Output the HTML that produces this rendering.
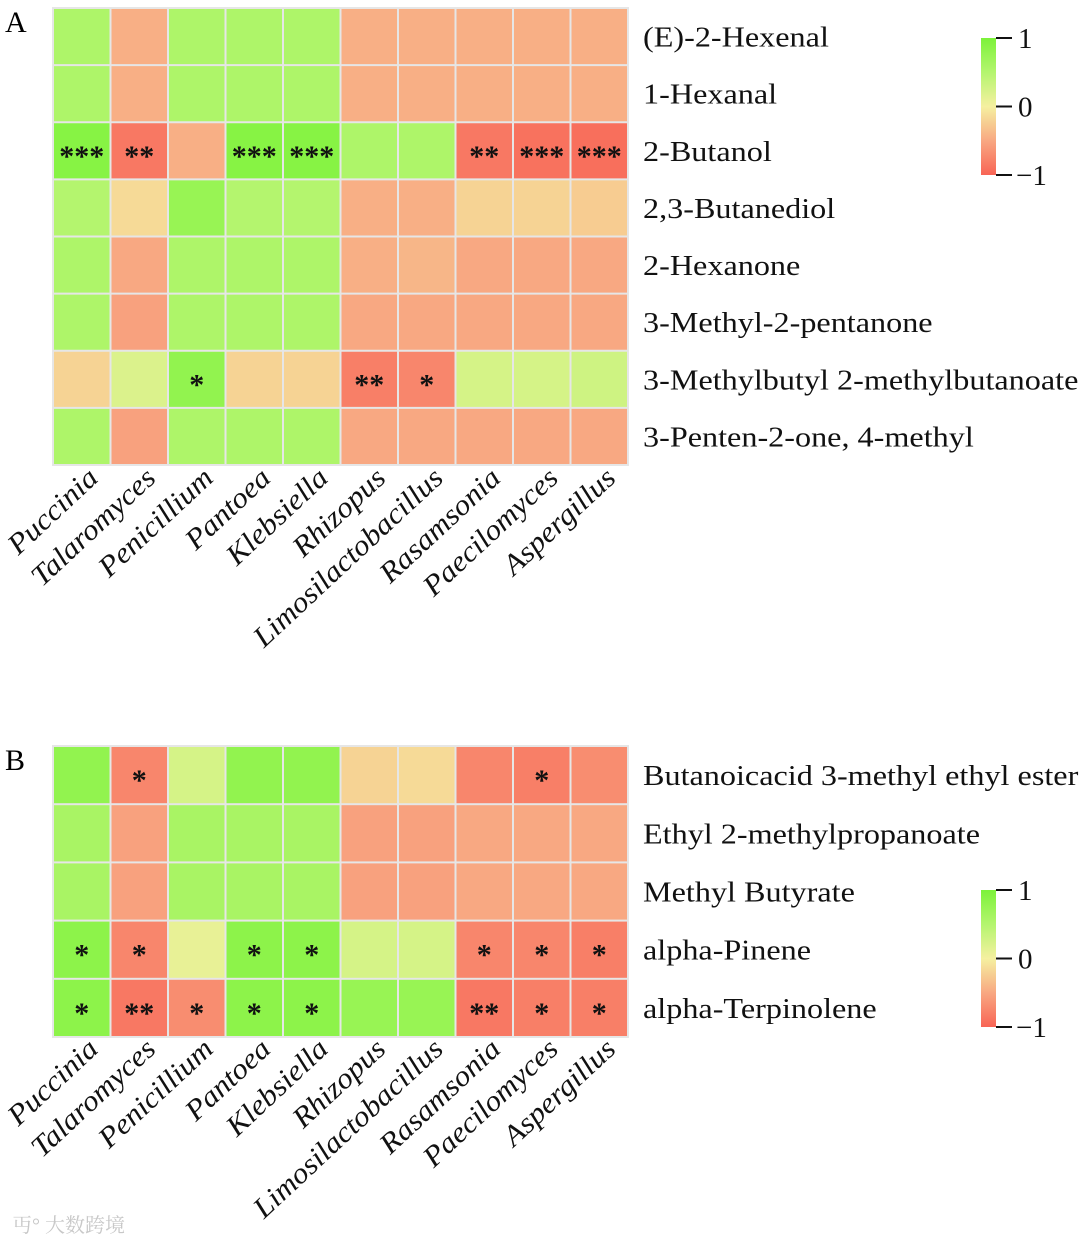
<!DOCTYPE html>
<html><head><meta charset="utf-8"><style>
body{margin:0;background:#fff;}
svg text{font-family:"Liberation Serif","Noto Serif CJK SC",serif;}
</style></head><body>
<svg id="chart" width="1080" height="1244" viewBox="0 0 1080 1244" xmlns="http://www.w3.org/2000/svg">
<defs>
<linearGradient id="cb" x1="0" y1="0" x2="0" y2="1">
<stop offset="0" stop-color="rgb(124,242,58)"/><stop offset="0.25" stop-color="rgb(180,245,110)"/>
<stop offset="0.5" stop-color="rgb(245,240,160)"/><stop offset="0.75" stop-color="rgb(248,168,130)"/>
<stop offset="1" stop-color="rgb(248,100,85)"/></linearGradient>
</defs>
<g id="root"></g>
</svg>
<script>
const genera = ["Puccinia","Talaromyces","Penicillium","Pantoea","Klebsiella","Rhizopus","Limosilactobacillus","Rasamsonia","Paecilomyces","Aspergillus"];
const rowsA = ["(E)-2-Hexenal","1-Hexanal","2-Butanol","2,3-Butanediol","2-Hexanone","3-Methyl-2-pentanone","3-Methylbutyl 2-methylbutanoate","3-Penten-2-one, 4-methyl"];
const valuesA = [
[0.55,-0.45,0.55,0.55,0.55,-0.45,-0.45,-0.45,-0.45,-0.45],
[0.55,-0.45,0.55,0.55,0.55,-0.45,-0.45,-0.45,-0.45,-0.45],
[0.9,-0.85,-0.45,0.9,0.9,0.55,0.55,-0.85,-0.9,-0.92],
[0.5,-0.15,0.75,0.5,0.5,-0.45,-0.45,-0.2,-0.2,-0.25],
[0.55,-0.5,0.55,0.55,0.55,-0.45,-0.4,-0.5,-0.5,-0.5],
[0.55,-0.55,0.55,0.55,0.55,-0.5,-0.5,-0.5,-0.5,-0.5],
[-0.2,0.2,0.8,-0.2,-0.2,-0.8,-0.75,0.25,0.25,0.3],
[0.55,-0.55,0.55,0.55,0.55,-0.5,-0.5,-0.5,-0.5,-0.5]];
const starsA = [
["","","","","","","","","",""],["","","","","","","","","",""],
["***","**","","***","***","","","**","***","***"],
["","","","","","","","","",""],["","","","","","","","","",""],["","","","","","","","","",""],
["","","*","","","**","*","","",""],["","","","","","","","","",""]];
const rowsB = ["Butanoicacid 3-methyl ethyl ester","Ethyl 2-methylpropanoate","Methyl Butyrate","alpha-Pinene","alpha-Terpinolene"];
const valuesB = [
[0.8,-0.75,0.25,0.8,0.8,-0.2,-0.15,-0.75,-0.8,-0.7],
[0.6,-0.55,0.6,0.6,0.6,-0.55,-0.55,-0.5,-0.5,-0.5],
[0.6,-0.55,0.6,0.6,0.6,-0.55,-0.55,-0.5,-0.5,-0.5],
[0.85,-0.75,0.1,0.85,0.85,0.25,0.25,-0.75,-0.75,-0.8],
[0.85,-0.85,-0.7,0.85,0.85,0.75,0.75,-0.85,-0.8,-0.8]];
const starsB = [
["","*","","","","","","","*",""],["","","","","","","","","",""],["","","","","","","","","",""],
["*","*","","*","*","","","*","*","*"],["*","**","*","*","*","","","**","*","*"]];
const cbTicks = ["1","0","\u22121"];

const NS="http://www.w3.org/2000/svg";
const root=document.getElementById('root');
function mk(tag,attrs,parent){const e=document.createElementNS(NS,tag);for(const k in attrs)e.setAttribute(k,attrs[k]);(parent||root).appendChild(e);return e;}
function widen(t,f){const w=t.getComputedTextLength();t.setAttribute('textLength',(w*f).toFixed(1));t.setAttribute('lengthAdjust','spacingAndGlyphs');}
const stops=[[1,[124,242,58]],[0.5,[180,245,110]],[0,[245,240,160]],[-0.5,[248,168,130]],[-1,[248,100,85]]];
function color(v){for(let i=0;i<stops.length-1;i++){const [a,ca]=stops[i],[b,cb]=stops[i+1];if(v<=a&&v>=b){const t=(a-v)/(a-b);return 'rgb('+ca.map((c,j)=>Math.round(c+(cb[j]-c)*t)).join(',')+')';}}return v>1?'rgb(124,242,58)':'rgb(248,100,85)';}
const X0=53,X1=628,cw=(X1-X0)/genera.length;
function xPos(i){return X0+i*cw;}

function panel(letter,rows,vals,stars,y0,y1,cbTop,labY){
  const g=mk('g',{});
  
  
  const rh=(y1-y0)/rows.length;
  const t=mk('text',{x:5,y:y0+24,'font-size':30},g);t.textContent=letter;
  
  
  mk('rect',{x:X0-1,y:y0-1,width:X1-X0+2,height:y1-y0+2,fill:'#e6e6e6'},g);
  vals.forEach((row,r)=>row.forEach((v,c)=>{
    const rc=mk('rect',{x:xPos(c)+1,y:y0+r*rh+1,width:cw-2,height:rh-2,fill:color(v)},g);
    
    
    if(stars[r][c]){const s=mk('text',{x:xPos(c)+cw/2,y:y0+r*rh+rh/2+15,'text-anchor':'middle','font-size':30,'font-weight':'bold','font-family':'Liberation Sans',fill:'#111'},g);s.textContent=stars[r][c];
      
      }
  }));
  rows.forEach((n,r)=>{const l=mk('text',{x:643,y:y0+r*rh+rh/2+10,'font-size':29,fill:'#111'},g);l.textContent=n;
    
    
    widen(l,1.11);});
  genera.forEach((n,c)=>{const cx=xPos(c)+cw/2+18;const l=mk('text',{x:cx,y:labY,'font-size':29,'font-style':'italic','text-anchor':'end',fill:'#111',transform:'rotate(-43 '+cx+' '+labY+')'},g);l.textContent=n;
    
    
    widen(l,1.08);});
  const cbH=137;
  const cb=mk('rect',{x:981,y:cbTop,width:15,height:cbH,fill:'url(#cb)'},g);
  
  
  cbTicks.forEach((tk,i)=>{const ty=cbTop+i*cbH/2;mk('line',{x1:996,x2:1012,y1:ty,y2:ty,stroke:'#111','stroke-width':2},g);
    const tt=mk('text',{x:i==2?1016:1018,y:ty+10,'font-size':29,fill:'#111'},g);tt.textContent=tk;
    
    });
}
panel('A',rowsA,valuesA,starsA,8,465,38,480);
panel('B',rowsB,valuesB,starsB,746,1037,890,1051);
const wm=mk('text',{x:12,y:1232,'font-size':20,fill:'#c8c8c8','font-family':'Liberation Sans, Noto Sans CJK SC, sans-serif'});
wm.textContent='\u4E0F\u00B0 大数跨境';


</script>
</body></html>
